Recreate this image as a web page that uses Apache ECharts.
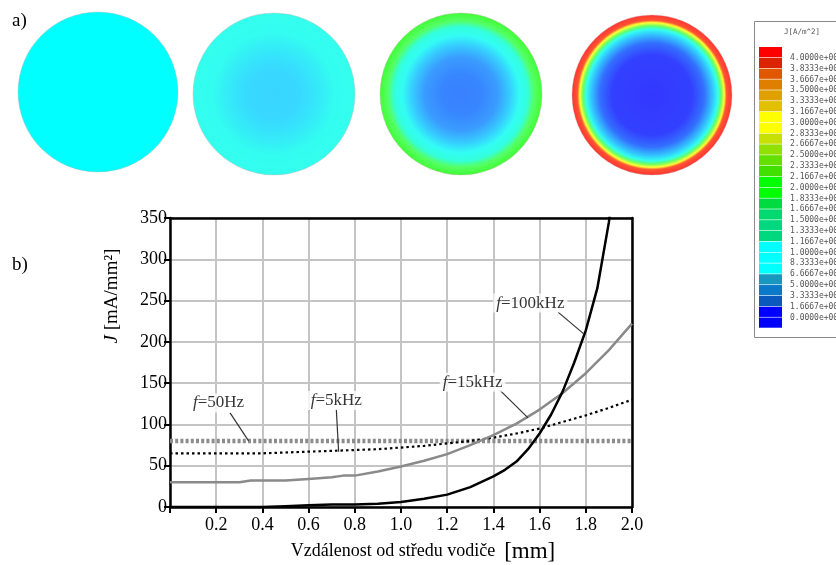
<!DOCTYPE html>
<html>
<head>
<meta charset="utf-8">
<script src="https://cdn.jsdelivr.net/npm/echarts@6/dist/echarts.min.js"></script>
<style>
  html, body { margin: 0; padding: 0; background: #fff; }
  #chart { width: 836px; height: 565px; }
</style>
</head>
<body>
<div id="chart"></div>
<script>
// 曲线数据 (x: 距导体中心 mm, y: J mA/mm2)
const x50Hz = [0, 2.0];
const y50Hz = [80, 80];

const x5kHz = [0, 0.2, 0.4, 0.5, 0.6, 0.7, 0.8, 0.9, 1.0, 1.1, 1.2, 1.3, 1.4, 1.5, 1.6, 1.7, 1.8, 1.9, 2.0];
const y5kHz = [65, 65, 65, 66, 67, 68, 69, 70, 72, 74, 77, 80, 84, 89, 95, 103, 111, 120, 130];

const x15kHz = [0, 0.1, 0.2, 0.3, 0.35, 0.4, 0.5, 0.6, 0.7, 0.75, 0.8, 0.9, 1.0, 1.1, 1.2, 1.3, 1.4, 1.5, 1.6, 1.7, 1.8, 1.9, 2.0];
const y15kHz = [30, 30, 30, 30, 32, 32, 32, 34, 36, 38, 38, 43, 49, 56, 64, 75, 87, 101, 118, 138, 162, 190, 222];

const x100kHz = [0, 0.4, 0.5, 0.6, 0.7, 0.8, 0.9, 1.0, 1.1, 1.2, 1.3, 1.4, 1.45, 1.5, 1.55, 1.6, 1.65, 1.7, 1.75, 1.8, 1.85, 1.9, 1.95];
const y100kHz = [0, 0, 1, 2, 3, 3, 4, 6, 10, 15, 24, 37, 45, 55, 70, 89, 112, 140, 175, 214, 265, 345, 450];

// 曲线标注: 名称, 文字位置, 引线起点/终点
const noteNames = ['50Hz', '5kHz', '15kHz', '100kHz'];
const notePos = [[0.21, 126], [0.72, 129], [1.31, 151], [1.56, 247]];
const noteLineFrom = [[0.26, 114], [0.72, 118], [1.43, 141], [1.68, 236]];
const noteLineTo = [[0.34, 80], [0.73, 67], [1.55, 108], [1.79, 210]];

// 图例 (Maxwell 色标)
const scaleLabels = ['4.0000e+005', '3.8333e+005', '3.6667e+005', '3.5000e+005', '3.3333e+005',
  '3.1667e+005', '3.0000e+005', '2.8333e+005', '2.6667e+005', '2.5000e+005', '2.3333e+005',
  '2.1667e+005', '2.0000e+005', '1.8333e+005', '1.6667e+005', '1.5000e+005', '1.3333e+005',
  '1.1667e+005', '1.0000e+005', '8.3333e+004', '6.6667e+004', '5.0000e+004', '3.3333e+004',
  '1.6667e+004', '0.0000e+000'];
const scaleColors = ['#ff0000', '#dc2300', '#df5800', '#e07e00', '#e0a000', '#e0c000', '#ffff00',
  '#ffff00', '#c6e000', '#90e000', '#62e000', '#40e000', '#00ff00', '#00ff00', '#00dc40',
  '#00d870', '#00d880', '#00d880', '#00ffff', '#00ffff', '#00ffff', '#1898c0', '#0a7ac8',
  '#0a5abe', '#0000ff', '#0000ff'];

// 截面电流密度分布 (径向渐变色标)
const discCenters = [[98, 92], [274, 94], [461, 94], [652, 95]];
const discRadius = [80, 81, 81, 80];
const discStops = [
  [[0, '#00ffff'], [1, '#00ffff']],
  [[0, '#38d6ff'], [0.3, '#38d8ff'], [0.45, '#36e2fc'], [0.6, '#34eef6'], [0.75, '#33fcf0'], [1, '#33ffee']],
  [[0, '#3880ff'], [0.25, '#3886ff'], [0.45, '#3a9cff'], [0.6, '#36ccff'], [0.72, '#33fcf4'],
   [0.82, '#33ffdd'], [0.9, '#55ff66'], [1, '#40ff33']],
  [[0, '#3338ff'], [0.5, '#3340ff'], [0.65, '#3370ff'], [0.76, '#33c8ff'], [0.82, '#33ffee'],
   [0.86, '#66ff66'], [0.9, '#ffff33'], [0.93, '#ff5533'], [1, '#ff3333']]
];

const zip = (xs, ys) => xs.map((x, i) => [x, ys[i]]);

document.addEventListener('DOMContentLoaded', () => {
  const chart = echarts.init(document.getElementById('chart'));
  const serif = '"Liberation Serif", "Times New Roman", serif';
  const mono = '"DejaVu Sans Mono", monospace';

  // 图例图形
  const legendEls = [];
  const swTop = 47, swH = 10.82;
  legendEls.push({
    type: 'rect', shape: { x: 754.5, y: 21.5, width: 100, height: 316 },
    style: { fill: '#fff', stroke: '#8a8a8a', lineWidth: 1 }
  });
  legendEls.push({
    type: 'text', x: 802, y: 32,
    style: { text: 'J[A/m^2]', font: '7.5px ' + mono, fill: '#555', align: 'center', verticalAlign: 'middle' }
  });
  scaleColors.forEach((c, i) => {
    legendEls.push({
      type: 'rect', shape: { x: 759, y: swTop + i * swH, width: 23, height: swH - 0.6 },
      style: { fill: c }
    });
  });
  scaleLabels.forEach((t, i) => {
    legendEls.push({
      type: 'text', x: 790, y: swTop + (i + 1) * swH,
      style: { text: t, font: '8px ' + mono, fill: '#555', verticalAlign: 'middle' }
    });
  });

  const discEls = discCenters.map((c, i) => ({
    type: 'circle', shape: { cx: c[0], cy: c[1], r: discRadius[i] },
    style: {
      fill: {
        type: 'radial', x: 0.5, y: 0.5, r: 0.5,
        colorStops: discStops[i].map(s => ({ offset: s[0], color: s[1] }))
      },
      stroke: 'rgba(190,170,170,0.6)', lineWidth: 0.6
    }
  }));

  const option = {
    backgroundColor: '#fff',
    animation: false,
    grid: { left: 170, right: 204, top: 218, bottom: 58, outerBoundsMode: 'none', containLabel: false },
    xAxis: [{
      type: 'value', min: 0, max: 2, interval: 0.2,
      axisLine: { show: true, lineStyle: { color: '#000', width: 2.5 } },
      axisTick: { show: true, length: 6, lineStyle: { color: '#000', width: 2 } },
      splitLine: { show: true, lineStyle: { color: '#c4c4c4', width: 2 } },
      axisLabel: {
        margin: 9, color: '#000', fontFamily: serif, fontSize: 18,
        formatter: v => (v === 0 ? '' : v.toFixed(1))
      },
      name: 'Vzdálenost od středu vodiče  {b|[mm]}',
      nameLocation: 'middle', nameGap: 33,
      nameTextStyle: {
        color: '#000', fontFamily: serif, fontSize: 18, padding: [0, 0, 0, 44],
        rich: { b: { fontFamily: serif, fontSize: 23, color: '#000' } }
      }
    }, {
      type: 'value', min: 0, max: 2, position: 'top',
      axisLine: { show: true, onZero: false, lineStyle: { color: '#000', width: 2.5 } },
      axisTick: { show: false }, axisLabel: { show: false }, splitLine: { show: false }
    }],
    yAxis: [{
      type: 'value', min: 0, max: 350, interval: 50,
      axisLine: { show: true, lineStyle: { color: '#000', width: 2.5 } },
      axisTick: { show: true, length: 6, lineStyle: { color: '#000', width: 2 } },
      splitLine: { show: true, lineStyle: { color: '#c4c4c4', width: 2 } },
      axisLabel: { margin: 3, color: '#000', fontFamily: serif, fontSize: 18 }
    }, {
      type: 'value', min: 0, max: 350, position: 'right',
      axisLine: { show: true, onZero: false, lineStyle: { color: '#000', width: 2.5 } },
      axisTick: { show: false }, axisLabel: { show: false }, splitLine: { show: false }
    }],
    graphic: [
      ...discEls,
      ...legendEls,
      { type: 'text', x: 12, y: 12, style: { text: 'a)', font: '19px ' + serif, fill: '#000' } },
      { type: 'text', x: 12, y: 256, style: { text: 'b)', font: '19px ' + serif, fill: '#000' } },
      {
        type: 'text', x: 112, y: 296, rotation: Math.PI / 2,
        style: {
          text: '{i|J} [mA/mm²]', font: '19px ' + serif, fill: '#000',
          align: 'center', verticalAlign: 'middle',
          rich: { i: { fontStyle: 'italic', fontFamily: serif, fontSize: 19 } }
        }
      }
    ],
    series: [
      {
        name: 'f=50Hz', type: 'line', data: zip(x50Hz, y50Hz), symbol: 'none', z: 3,
        lineStyle: { color: '#8c8c8c', width: 4.5, type: [3, 2.2] }
      },
      {
        name: 'f=5kHz', type: 'line', data: zip(x5kHz, y5kHz), symbol: 'none', z: 4,
        lineStyle: { color: '#000', width: 2.2, type: [2.5, 3] }
      },
      {
        name: 'f=15kHz', type: 'line', data: zip(x15kHz, y15kHz), symbol: 'none', z: 4,
        lineStyle: { color: '#8a8a8a', width: 2.5 }
      },
      {
        name: 'f=100kHz', type: 'line', data: zip(x100kHz, y100kHz), symbol: 'none', z: 5,
        lineStyle: { color: '#000', width: 2.5 }
      },
      {
        type: 'lines', coordinateSystem: 'cartesian2d', z: 6, silent: true,
        lineStyle: { color: '#333', width: 1.2, opacity: 1 },
        data: noteLineFrom.map((p, i) => ({ coords: [p, noteLineTo[i]] }))
      },
      {
        type: 'scatter', symbolSize: 0, z: 7, silent: true,
        data: notePos.map((p, i) => ({ name: noteNames[i], value: p })),
        label: {
          show: true, position: 'inside', color: '#000', fontFamily: serif, fontSize: 17,
          backgroundColor: '#fff', padding: [1, 3],
          formatter: p => '{i|f}=' + p.name,
          rich: { i: { fontStyle: 'italic', fontFamily: serif, fontSize: 17, color: '#000' } }
        }
      }
    ]
  };
  chart.setOption(option);
});
</script>
</body>
</html>
